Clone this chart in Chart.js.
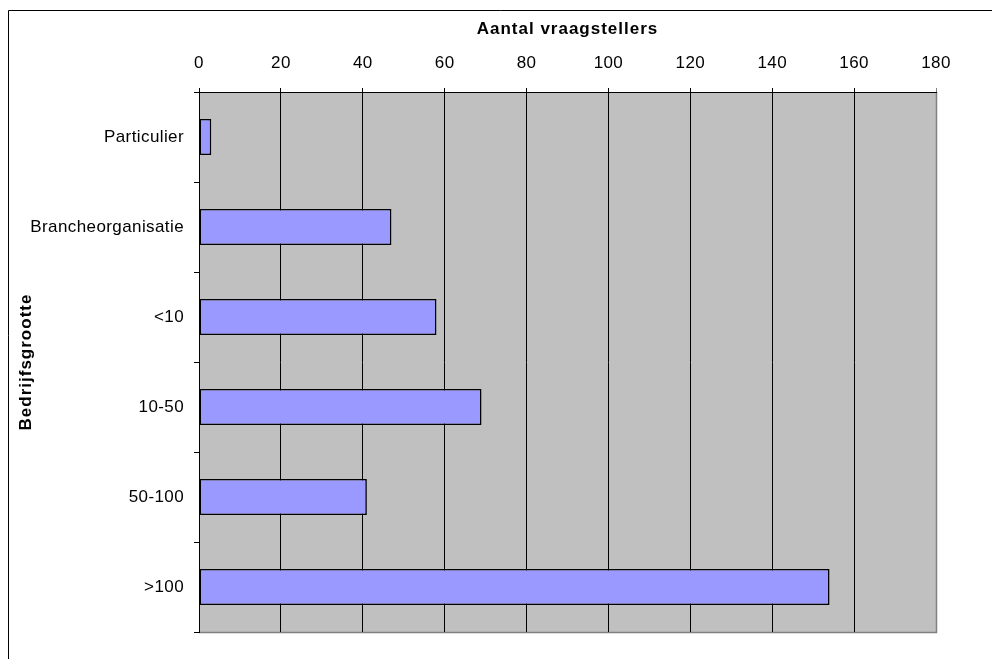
<!DOCTYPE html>
<html>
<head>
<meta charset="utf-8">
<script src="https://cdn.jsdelivr.net/npm/chart.js@4.4.1/dist/chart.umd.min.js"></script>
<style>
html,body{margin:0;padding:0;background:#fff;}
#wrap{position:relative;width:992px;height:659px;}
</style>
</head>
<body>
<div id="wrap"><canvas id="c" width="992" height="659"></canvas></div>
<script>
const categories = ["Particulier", "Brancheorganisatie", "<10", "10-50", "50-100", ">100"];
const values = [3, 47, 58, 69, 41, 154];
const xTitle = "Aantal vraagstellers";
const yTitle = "Bedrijfsgrootte";
const xMin = 0, xMax = 180, xStep = 20;

const FONT = "'Liberation Sans', Arial, sans-serif";

const framePlugin = {
  id: 'frame',
  beforeDraw(chart) {
    const ctx = chart.ctx, a = chart.chartArea;
    ctx.save();
    ctx.fillStyle = '#fff';
    ctx.fillRect(0, 0, chart.width, chart.height);
    ctx.strokeStyle = '#000';
    ctx.lineWidth = 1;
    ctx.beginPath();
    ctx.moveTo(8.5, chart.height + 2);
    ctx.lineTo(8.5, 10.5);
    ctx.lineTo(chart.width + 2, 10.5);
    ctx.stroke();
    ctx.fillStyle = '#C0C0C0';
    ctx.fillRect(a.left, a.top, a.right - a.left, a.bottom - a.top);
    ctx.strokeStyle = '#808080';
    ctx.lineWidth = 1.5;
    ctx.beginPath();
    ctx.moveTo(a.left, a.bottom + 0.5);
    ctx.lineTo(a.right + 0.5, a.bottom + 0.5);
    ctx.lineTo(a.right + 0.5, a.top);
    ctx.stroke();
    ctx.restore();
    // wider spacing for axis titles (drawn with grid layer)
    ctx.letterSpacing = '1px';
  },
  afterDatasetsDraw(chart) {
    // tick labels are drawn after datasets (ticks.z = 1)
    chart.ctx.letterSpacing = '0.4px';
  },
  afterDraw(chart) {
    chart.ctx.letterSpacing = '0px';
  }
};

new Chart(document.getElementById('c'), {
  type: 'bar',
  data: {
    labels: categories,
    datasets: [{
      data: values,
      backgroundColor: '#9999FF',
      borderColor: '#000',
      borderWidth: 1.6,
      borderSkipped: false,
      barPercentage: 0.4,
      categoryPercentage: 1.0
    }]
  },
  options: {
    indexAxis: 'y',
    responsive: false,
    animation: false,
    devicePixelRatio: 1,
    layout: { padding: { top: 0, left: 0, right: 56, bottom: 27 } },
    plugins: { legend: { display: false }, tooltip: { enabled: false } },
    scales: {
      x: {
        position: 'top',
        min: xMin, max: xMax,
        ticks: { z: 1, stepSize: xStep, color: '#000', padding: 14, font: { family: FONT, size: 17 } },
        grid: {
          color: (c) => (c.tick && c.tick.value === xMax) ? '#808080' : '#000',
          lineWidth: 1,
          tickLength: 4,
          drawTicks: true
        },
        border: { display: true, color: '#000', width: 1 },
        title: { display: true, text: xTitle, color: '#000', padding: { top: 19, bottom: 0 }, font: { family: FONT, size: 17, weight: 'bold' } },
        afterFit(scale) { scale.height = 92; }
      },
      y: {
        position: 'left',
        offset: true,
        ticks: { z: 1, color: '#000', padding: 10, font: { family: FONT, size: 17 } },
        grid: { display: true, offset: true, drawOnChartArea: false, drawTicks: true, tickLength: 5, color: '#000' },
        border: { display: true, color: '#000', width: 1 },
        title: { display: true, text: yTitle, color: '#000', padding: { top: 16, bottom: 0 }, font: { family: FONT, size: 17, weight: 'bold' } },
        afterFit(scale) { scale.width = 199; }
      }
    }
  },
  plugins: [framePlugin]
});
</script>
</body>
</html>
